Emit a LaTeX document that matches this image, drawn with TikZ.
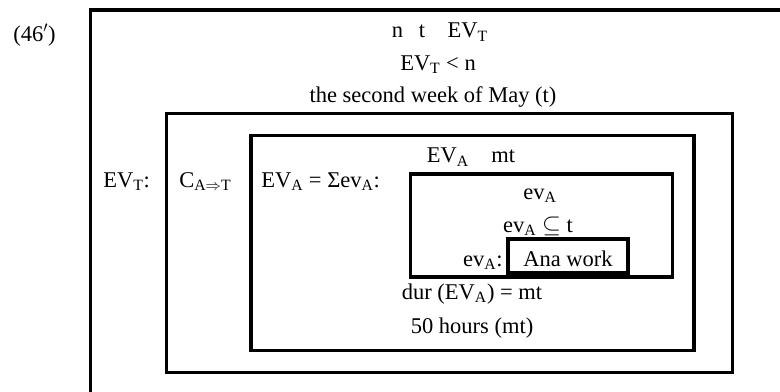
\documentclass[tikz,border=0pt]{standalone}
\usepackage{fontspec}
\setmainfont{Liberation Serif}
\usepackage{tikz}

\begin{document}
\begin{tikzpicture}[x=0.025cm,y=-0.025cm]
		\tikzstyle{every node} = [inner sep=0pt,anchor=base,font=\fontsize{16}{19}\selectfont];
		\tikzstyle{frame} = [line width=2.4pt];
		\useasboundingbox (0,0) rectangle (780,391);
		\draw[frame] (90.7,400) -- (90.7,10) -- (790,10);
		\draw[frame] (166.7,113.3) rectangle (732.5,372.7);
		\draw[frame] (251,135.5) rectangle (694,350.7);
		\draw[frame] (410.7,174) rectangle (672.5,277);
		\draw[frame] (508,239) rectangle (628,273);
		\node (num) at (34.5,41.7) {(46$'$)};
		\node (top1) at (440,37.7) {n\hspace{0.7em}t\hspace{1em}EV\textsubscript{T}};
		\node (top2) at (438,70) {EV\textsubscript{T} < n};
		\node (top3) at (433,102) {the second week of May (t)};
		\node[anchor=base west] (evt) at (103,187) {EV\textsubscript{T}:};
		\node[anchor=base west] (cat) at (179,187) {C\textsubscript{A$\Rightarrow$T}};
		\node[anchor=base west] (sum) at (261,187) {EV\textsubscript{A} = Σev\textsubscript{A}:};
		\node (eva) at (471,162.7) {EV\textsubscript{A}\quad mt};
		\node (ev1) at (540,199) {ev\textsubscript{A}};
		\node (ev2) at (538,232) {ev\textsubscript{A} $\subseteq$ t};
		\node[anchor=base east] (ev3) at (503,266) {ev\textsubscript{A}:};
		\node (ana) at (568,266) {Ana work};
		\node (dur) at (472,299) {dur (EV\textsubscript{A}) = mt};
		\node (hrs) at (472,333) {50 hours (mt)};
	\end{tikzpicture}
\end{document}
